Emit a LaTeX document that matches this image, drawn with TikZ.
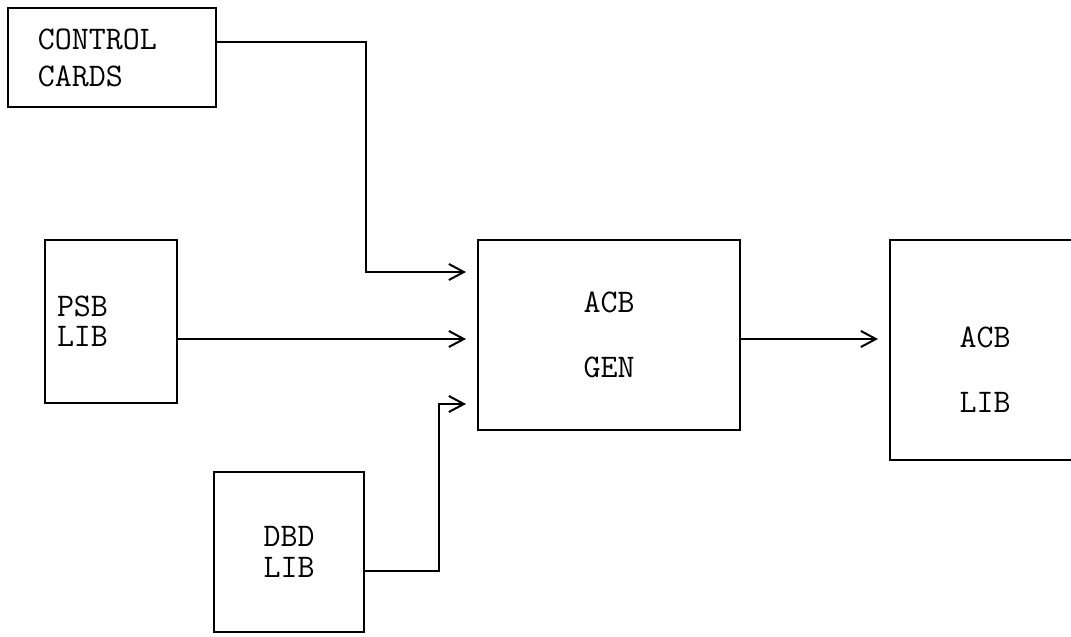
\documentclass[tikz,border=0pt]{standalone}
\usetikzlibrary{arrows.meta}
\tikzset{
  blk/.style ={draw, line width=1pt, inner sep=0pt,
               font=\fontsize{16.5}{15}\selectfont\ttfamily},
  ar/.style  ={-{Straight Barb[length=7.5pt, width=8pt, line width=1pt]},
               line width=1pt, shorten >=5.5pt}
}
\begin{document}
\begin{tikzpicture}[x=0.5pt, y=-0.5pt]
\useasboundingbox (0,0) rectangle (1071,637);
\clip (0,0) rectangle (1071,637);
% inputs on the left, generator in the middle, library on the right
\node[blk, text width=74pt, inner xsep=15pt, align=left,
      minimum height=49.5pt] (cards) at (112,57.5) {CONTROL\\[3.5pt]CARDS};
\node[blk, text width=54pt, inner xsep=6pt, align=left,
      minimum height=81.5pt] (psb) at (111,321.5) {PSB\\LIB};
\node[blk, minimum width=75pt, minimum height=80pt, align=center]
  (dbd) at (289,552) {DBD\\[0.5pt]LIB};
\node[blk, minimum width=131pt, minimum height=95pt, align=center]
  (gen) at (609,335) {ACB\\[17.5pt]GEN};
\node[blk, minimum width=95pt, minimum height=110pt, align=center,
      text height=65pt, text depth=3pt]
  (acblib) at (985,350) {ACB\\[17.5pt]LIB};

\coordinate (j1) at (366,42);
\coordinate (j2) at (366,272);
\coordinate (j3) at (439,571);
\coordinate (j4) at (439,404);
\coordinate (inmid) at ([yshift=-2pt]gen.west);
\coordinate (outmid) at ([yshift=-2pt]gen.east);

\draw[ar] (cards.east |- j1) -- (j1) -- (j2) -- (j2 -| gen.west);
\draw[ar] (psb.east |- inmid) -- (inmid);
\draw[ar] (dbd.east |- j3) -- (j3) -- (j4) -- (j4 -| gen.west);
\draw[ar] (outmid) -- (outmid -| acblib.west);
\end{tikzpicture}
\end{document}
